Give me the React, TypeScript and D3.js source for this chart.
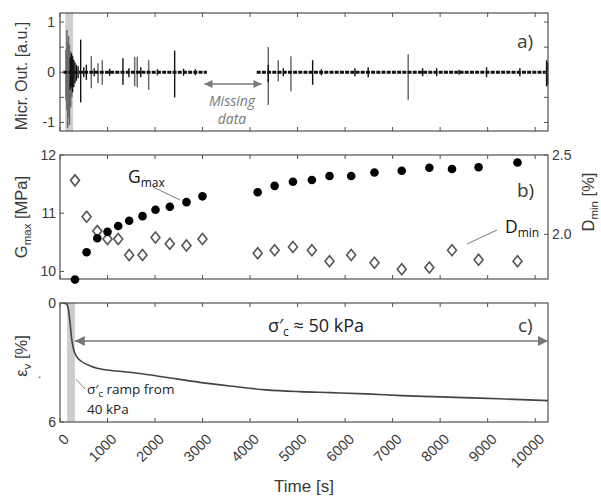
import React from "react";
import * as d3 from "d3";

const W = 601;
const H = 501;

// ---------- data ----------
const timeTicks = [0, 1000, 2000, 3000, 4000, 5000, 6000, 7000, 8000, 9000, 10000];
const timeMax = 10270;
const rampA: [number, number] = [110, 275];
const rampC: [number, number] = [150, 312];

// Panel a: microphone output
const micSegments: [number, number][] = [
  [70, 3090],
  [4140, 10270],
];
const missingData: [number, number] = [3040, 4240];
// [time, up amplitude, down amplitude]
const micSpikesGray: [number, number, number][] = [
  [125, 0.45, -0.55], [145, 0.84, -0.75], [160, 0.6, -1.11], [180, 0.72, -0.9],
  [200, 0.55, -1.05], [225, 0.42, -0.7], [250, 0.35, -0.5],
  [659, 0.32, -0.32], [800, 0.18, -0.22], [890, 0.24, -0.25], [1572, 0.31, -0.28],
  [1626, 0.31, -0.3], [1866, 0.24, -0.35], [4383, 0.5, -0.65], [4593, 0.24, -0.18],
  [4860, 0.32, -0.38], [7328, 0.36, -0.55],
];
const micSpikesBlack: [number, number, number][] = [
  [215, 0.3, -0.35], [240, 0.38, -0.3], [265, 0.32, -0.4], [290, 0.25, -0.3],
  [315, 0.2, -0.22], [345, 0.15, -0.17], [380, 0.12, -0.12], [435, 0.65, -0.6],
  [500, 0.1, -0.1], [555, 0.15, -0.15], [720, 0.08, -0.08], [1045, 0.07, -0.07],
  [1325, 0.28, -0.25], [1450, 0.08, -0.1], [1700, 0.1, -0.1], [2050, 0.06, -0.06],
  [2413, 0.43, -0.5], [2600, 0.07, -0.07], [2850, 0.06, -0.06], [4383, 0.15, -0.2],
  [4700, 0.08, -0.08], [5317, 0.24, -0.25], [5500, 0.06, -0.06], [6207, 0.08, -0.08],
  [6486, 0.1, -0.1], [7631, 0.08, -0.08], [7926, 0.08, -0.08], [8400, 0.05, -0.05],
  [8977, 0.1, -0.1], [9678, 0.08, -0.08], [10240, 0.24, -0.28], [10262, 0.2, -0.25],
];
const micTicks = [-1, -0.5, 0, 0.5, 1];
const micTickLabels = ["-1", "", "0", "", "1"];

// Panel b: Gmax and Dmin
const bTimes = [315, 560, 785, 1000, 1225, 1456, 1737, 2010, 2311, 2662, 2998, 4160, 4517, 4902, 5301, 5672, 6128, 6618, 7192, 7773, 8250, 8809, 9628];
const gMax = [9.86, 10.33, 10.57, 10.68, 10.78, 10.87, 10.95, 11.06, 11.11, 11.19, 11.29, 11.36, 11.47, 11.54, 11.57, 11.64, 11.64, 11.70, 11.73, 11.78, 11.76, 11.79, 11.87];
const dMin = [2.34, 2.11, 2.02, 1.97, 1.97, 1.87, 1.87, 1.98, 1.94, 1.93, 1.97, 1.88, 1.90, 1.92, 1.90, 1.83, 1.87, 1.82, 1.78, 1.79, 1.90, 1.84, 1.83];
const gTicks = [10, 11, 12];
const dTicks = [2.0, 2.5];

// Panel c: volumetric strain
const epsTime = [70, 140, 175, 210, 245, 280, 350, 455, 665, 945, 1300, 1720, 2210, 2940, 3640, 4340, 5040, 5700, 6440, 7200, 7840, 8500, 9240, 10270];
const epsVal = [0, 0.05, 0.3, 0.95, 1.78, 2.28, 2.7, 2.95, 3.2, 3.37, 3.45, 3.57, 3.74, 4.0, 4.2, 4.38, 4.47, 4.52, 4.58, 4.67, 4.72, 4.77, 4.83, 4.92];
const epsTicks = [0, 6];

// ---------- layout ----------
const L = 60;
const R = 548;
const A = { top: 13, bottom: 131 };
const B = { top: 155, bottom: 279 };
const C = { top: 303, bottom: 422 };

const FRAME = "#505050";
const TXT = "#3a3a3a";
const SANS = "'Liberation Sans', Arial, sans-serif";
const ANN = "'Open Sans', 'Noto Sans', sans-serif";

export default function App() {
  const x = d3.scaleLinear().domain([0, timeMax]).range([L, R]);
  const ya = d3.scaleLinear().domain([-1.17, 1.18]).range([A.bottom, A.top]);
  const yg = d3.scaleLinear().domain([9.87, 12]).range([B.bottom, B.top]);
  const yd = d3.scaleLinear().domain([1.718, 2.5]).range([B.bottom, B.top]);
  const ye = d3.scaleLinear().domain([0, 6]).range([C.top, C.bottom]);

  const epsLine = d3
    .line<number>()
    .x((_, i) => x(epsTime[i]))
    .y((d) => ye(d))
    .curve(d3.curveMonotoneX);

  const xTicksFor = (p: { top: number; bottom: number }, key: string) =>
    timeTicks.map((t) => (
      <g key={key + t}>
        <line x1={x(t)} x2={x(t)} y1={p.bottom} y2={p.bottom - 4} stroke={FRAME} />
        <line x1={x(t)} x2={x(t)} y1={p.top} y2={p.top + 4} stroke={FRAME} />
      </g>
    ));

  const frame = (p: { top: number; bottom: number }) => (
    <rect x={L} y={p.top} width={R - L} height={p.bottom - p.top} fill="none" stroke={FRAME} strokeWidth={1.2} />
  );

  const diamond = (cx: number, cy: number, k: number) => (
    <path
      key={"dm" + k}
      d={`M${cx},${cy - 5.5} L${cx + 4.5},${cy} L${cx},${cy + 5.5} L${cx - 4.5},${cy} Z`}
      fill="white"
      stroke="#555"
      strokeWidth={1.6}
    />
  );

  return (
    <svg width={W} height={H} style={{ position: "absolute", left: 0, top: 0, background: "white" }} fontFamily={SANS}>
      <rect x={0} y={0} width={W} height={H} fill="white" />

      {/* ---------------- Panel a ---------------- */}
      <rect x={x(rampA[0])} y={A.top} width={x(rampA[1]) - x(rampA[0])} height={A.bottom - A.top} fill="#cfcfcf" />
      {micSpikesGray.map(([t, u, d], i) => (
        <line key={"sg" + i} x1={x(t)} x2={x(t)} y1={ya(u)} y2={ya(d)} stroke="#6a6a6a" strokeWidth={1.5} />
      ))}
      {micSegments.map(([s, e], i) => (
        <line key={"seg" + i} x1={x(s)} x2={x(e)} y1={ya(0)} y2={ya(0)} stroke="#111" strokeWidth={3} strokeDasharray="4 1.2" />
      ))}
      {micSpikesBlack.map(([t, u, d], i) => (
        <line key={"sb" + i} x1={x(t)} x2={x(t)} y1={ya(u)} y2={ya(d)} stroke="#111" strokeWidth={1.4} />
      ))}
      {frame(A)}
      {xTicksFor(A, "ta")}
      {micTicks.map((v, i) => (
        <g key={"mt" + i}>
          <line x1={L} x2={L + 4} y1={ya(v)} y2={ya(v)} stroke={FRAME} />
          <line x1={R} x2={R - 4} y1={ya(v)} y2={ya(v)} stroke={FRAME} />
          {micTickLabels[i] && (
            <text x={55} y={ya(v) + 5} textAnchor="end" fontSize={14} fill={TXT}>
              {micTickLabels[i]}
            </text>
          )}
        </g>
      ))}
      <text transform={`translate(27,${(A.top + A.bottom) / 2 + 4}) rotate(-90)`} textAnchor="middle" fontSize={16} fill={TXT}>
        Micr. Out. [a.u.]
      </text>
      <text x={517} y={48} fontSize={19} fontFamily={ANN} fill={TXT}>a)</text>
      {/* missing data annotation */}
      <g stroke="#7a7a7a" strokeWidth={1.6} fill="#7a7a7a">
        <line x1={x(missingData[0])} x2={x(missingData[1])} y1={84} y2={84} />
        <path d={`M${x(missingData[0])},84 l8,-4 l0,8 Z`} stroke="none" />
        <path d={`M${x(missingData[1])},84 l-8,-4 l0,8 Z`} stroke="none" />
      </g>
      <text x={232} y={106} textAnchor="middle" fontSize={14} fontStyle="italic" fontFamily={ANN} fill="#7a7a7a">Missing</text>
      <text x={232} y={124} textAnchor="middle" fontSize={14} fontStyle="italic" fontFamily={ANN} fill="#7a7a7a">data</text>

      {/* ---------------- Panel b ---------------- */}
      {frame(B)}
      {xTicksFor(B, "tb")}
      {gTicks.map((v) => (
        <g key={"gt" + v}>
          <line x1={L} x2={L + 4} y1={yg(v)} y2={yg(v)} stroke={FRAME} />
          <text x={56} y={yg(v) + 5} textAnchor="end" fontSize={14} fill={TXT}>{v}</text>
        </g>
      ))}
      {dTicks.map((v) => (
        <g key={"dt" + v}>
          <line x1={R} x2={R - 4} y1={yd(v)} y2={yd(v)} stroke={FRAME} />
          <text x={552} y={yd(v) + 5} textAnchor="start" fontSize={14} fill={TXT}>{v.toFixed(1)}</text>
        </g>
      ))}
      {bTimes.map((t, i) => diamond(x(t), yd(dMin[i]), i))}
      {bTimes.map((t, i) => (
        <circle key={"gc" + i} cx={x(t)} cy={yg(gMax[i])} r={4.3} fill="#000" />
      ))}
      <text transform={`translate(27,${(B.top + B.bottom) / 2}) rotate(-90)`} textAnchor="middle" fontSize={16.5} fill={TXT}>
        G<tspan fontSize={11.5} dy={4}>max</tspan>
        <tspan dy={-4}> [MPa]</tspan>
      </text>
      <text transform={`translate(594,${(B.top + B.bottom) / 2 - 15}) rotate(-90)`} textAnchor="middle" fontSize={16.5} fill={TXT}>
        D<tspan fontSize={11.5} dy={4}>min</tspan>
        <tspan dy={-4}> [%]</tspan>
      </text>
      <text x={517} y={197} fontSize={19} fontFamily={ANN} fill={TXT}>b)</text>
      <text x={128} y={183} fontSize={17.5} fontFamily={ANN} fill="#111">
        G<tspan fontSize={12} dy={4}>max</tspan>
      </text>
      <line x1={153} y1={187} x2={180} y2={200} stroke="#777" strokeWidth={1} />
      <text x={505} y={233} fontSize={17.5} fontFamily={ANN} fill="#111">
        D<tspan fontSize={12} dy={4}>min</tspan>
      </text>
      <line x1={497} y1={230} x2={467} y2={244} stroke="#777" strokeWidth={1} />

      {/* ---------------- Panel c ---------------- */}
      <rect x={x(rampC[0])} y={C.top} width={x(rampC[1]) - x(rampC[0])} height={C.bottom - C.top} fill="#cccccc" />
      <path d={epsLine(epsVal) ?? ""} fill="none" stroke="#444" strokeWidth={1.6} />
      {frame(C)}
      {xTicksFor(C, "tc")}
      {epsTicks.map((v) => (
        <g key={"et" + v}>
          <line x1={L} x2={L + 4} y1={ye(v)} y2={ye(v)} stroke={FRAME} />
          <text x={56} y={ye(v) + 5} textAnchor="end" fontSize={14} fill={TXT}>{v}</text>
        </g>
      ))}
      <text transform={`translate(27,356) rotate(-90)`} textAnchor="middle" fontSize={16.5} fill={TXT}>
        ε<tspan fontSize={11.5} dy={4}>v</tspan>
        <tspan dy={-4}> [%]</tspan>
      </text>
      <text x={38} y={378} fontSize={12} fill={TXT}>.</text>
      {/* sigma arrow */}
      <g fill="#777">
        <line x1={x(rampC[1])} x2={R} y1={341} y2={341} stroke="#777" strokeWidth={1.6} />
        <path d={`M${x(rampC[1])},341 l10,-5 l0,10 Z`} />
        <path d={`M${R},341 l-10,-5 l0,10 Z`} />
      </g>
      <text x={316} y={332} textAnchor="middle" fontSize={18} fontFamily={ANN} fill="#222">
        σ′<tspan fontSize={12} dy={4}>c</tspan>
        <tspan dy={-4}> ≈ 50 kPa</tspan>
      </text>
      <text x={518} y={332} fontSize={19} fontFamily={ANN} fill={TXT}>c)</text>
      <line x1={76} y1={379} x2={85} y2={389} stroke="#888" strokeWidth={1} />
      <text x={87} y={394} fontSize={13.5} fontFamily={ANN} fill="#222">
        σ′<tspan fontSize={9.5} dy={3}>c</tspan>
        <tspan dy={-3}> ramp from</tspan>
      </text>
      <text x={87} y={414} fontSize={13.5} fontFamily={ANN} fill="#222">40 kPa</text>

      {/* x tick labels */}
      {timeTicks.map((t) => (
        <text
          key={"xl" + t}
          transform={`translate(${x(t) + 10},${C.bottom + 18}) rotate(-45)`}
          textAnchor="end"
          fontSize={14.5}
          fill={TXT}
        >
          {t}
        </text>
      ))}
      <text x={304} y={492} textAnchor="middle" fontSize={17} fill={TXT}>Time [s]</text>
    </svg>
  );
}
